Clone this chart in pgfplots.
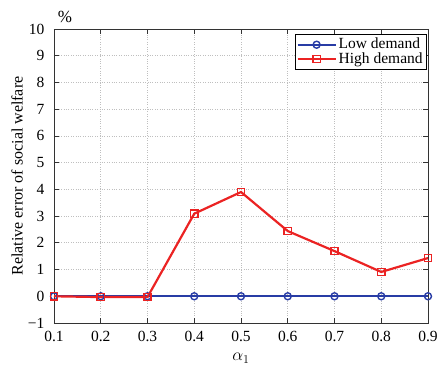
\documentclass[border=0pt]{standalone}
\usepackage{fontspec}
\setmainfont{Liberation Serif}
\usepackage{pgfplots}
\pgfplotsset{compat=1.18}
\definecolor{myblue}{RGB}{40,60,165}
\definecolor{myred}{RGB}{235,35,35}
\begin{document}
\fontsize{16}{19}\selectfont
\begin{tikzpicture}
\begin{axis}[
  name=ax,
  scale only axis,
  width=374pt, height=294pt,
  xmin=0.1, xmax=0.9, ymin=-1, ymax=10,
  xtick={0.1,0.2,...,0.9},
  xticklabels={0.1,0.2,0.3,0.4,0.5,0.6,0.7,0.8,0.9},
  ytick={-1,0,...,10},
  yticklabels={−1,0,1,2,3,4,5,6,7,8,9,10},
  tick align=inside,
  major tick length=5pt,
  grid=major,
  major grid style={gray!50, dotted, line width=0.7pt},
  axis line style={black!80, line width=0.7pt},
  tick style={black!80, line width=0.7pt},
  ticklabel style={font=\fontsize{15.5}{18}\selectfont},
  xticklabel style={yshift=-3pt},
  yticklabel style={xshift=-4pt},
  xlabel={$\alpha_1$},
  ylabel={Relative error of social welfare},
  label style={font=\fontsize{16}{19}\selectfont},
  xlabel style={font=\fontsize{18}{20}\selectfont, at={([yshift=-35pt]rel axis cs:0.5,0)}, anchor=center},
  ylabel style={at={([xshift=-37pt]rel axis cs:0,0.5)}, anchor=center},
  legend style={at={(0.996,0.982)}, anchor=north east, draw=black, line width=0.7pt,
    font=\fontsize{15.5}{17}\selectfont, inner sep=1.5pt, row sep=-3pt, cells={anchor=west}},
  legend cell align=left,
  legend image code/.code={\draw[mark repeat=2,mark phase=2] plot coordinates {(0pt,0pt) (19pt,0pt) (38pt,0pt)};},
]
\addplot[myblue, line width=2.2pt, mark=o, mark size=3.5pt, mark options={solid, line width=1.4pt}]
  coordinates {(0.1,0) (0.2,0) (0.3,0) (0.4,0) (0.5,0) (0.6,0) (0.7,0) (0.8,0) (0.9,0)};
\addlegendentry{Low demand}
\addplot[myred, line width=2.2pt, mark=square, mark size=3.6pt, mark options={solid, line width=1.4pt}]
  coordinates {(0.1,0.0) (0.2,-0.03) (0.3,-0.03) (0.4,3.09) (0.5,3.9) (0.6,2.44) (0.7,1.69) (0.8,0.91) (0.9,1.43)};
\addlegendentry{High demand}
\end{axis}
\node[font=\fontsize{17}{19}\selectfont] at ([shift={(11pt,12pt)}]ax.north west) {\%};
\pgfresetboundingbox
\path ([shift={(-54pt,-58pt)}]ax.south west) rectangle ([shift={(17pt,29pt)}]ax.north east);
\end{tikzpicture}
\end{document}
